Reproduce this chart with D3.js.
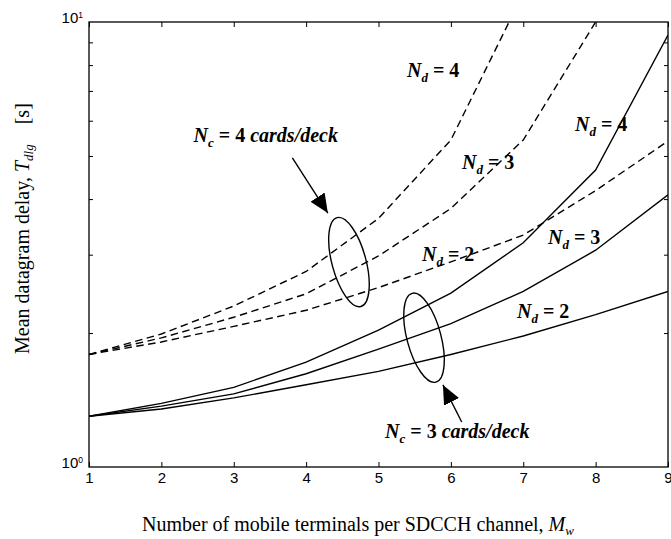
<!DOCTYPE html>
<html><head><meta charset="utf-8">
<script src="https://cdn.jsdelivr.net/npm/d3@7"></script>
<style>body{margin:0;background:#fff}svg{display:block}</style>
</head><body><svg id="c" width="671" height="539"></svg>
<script>
// Data
const mw = [1,2,3,4,5,6,7,8,9];
// Nc = 3 cards/deck (solid)
const solidNd2 = [1.30,1.35,1.43,1.53,1.64,1.79,1.97,2.20,2.48];
const solidNd3 = [1.30,1.37,1.46,1.62,1.84,2.10,2.48,3.07,4.09];
const solidNd4 = [1.30,1.39,1.51,1.72,2.03,2.46,3.19,4.65,9.35];
// Nc = 4 cards/deck (dashed)
const dashNd2 = [1.79,1.91,2.07,2.25,2.53,2.89,3.32,4.18,5.40];
const dashNd3 = [1.79,1.95,2.17,2.45,2.98,3.81,5.43,10.0];
const dashNd4 = [1.79,1.99,2.30,2.75,3.62,5.43,11.6];
const xTicks = [1,2,3,4,5,6,7,8,9];
const yMajor = [1,10];
const yMinor = [2,3,4,5,6,7,8,9];

const svg = d3.select("#c");
const L=89, R=668, T=22, B=467;
const x = d3.scaleLinear().domain([1,9]).range([L,R]);
const y = d3.scaleLog().domain([1,10]).range([B,T]);

svg.append("defs").append("clipPath").attr("id","clip")
  .append("rect").attr("x",L).attr("y",T).attr("width",R-L).attr("height",B-T);
const mk = svg.select("defs").append("marker").attr("id","ah")
  .attr("viewBox","0 0 10 10").attr("refX",10).attr("refY",5)
  .attr("markerWidth",19).attr("markerHeight",19).attr("markerUnits","userSpaceOnUse")
  .attr("orient","auto");
mk.append("path").attr("d","M0,0.6 L10,5 L0,9.4 Z").attr("fill","#000");

const line = d3.line().x((d,i)=>x(mw[i])).y(d=>y(d));
const g = svg.append("g").attr("clip-path","url(#clip)");
[solidNd2,solidNd3,solidNd4].forEach(s=>{
  g.append("path").attr("d",line(s)).attr("fill","none").attr("stroke","#000").attr("stroke-width",1.4);
});
[dashNd2,dashNd3,dashNd4].forEach(s=>{
  g.append("path").attr("d",line(s)).attr("fill","none").attr("stroke","#000").attr("stroke-width",1.4).attr("stroke-dasharray","7.5,4.5");
});

// frame
svg.append("rect").attr("x",L).attr("y",T).attr("width",R-L).attr("height",B-T)
  .attr("fill","none").attr("stroke","#000").attr("stroke-width",1.3);

// axes ticks
const xb = d3.axisBottom(x).tickValues(xTicks).tickSize(-5).tickPadding(5).tickFormat(d3.format("d"));
const xt = d3.axisTop(x).tickValues(xTicks).tickSize(-5).tickFormat("");
const gx = svg.append("g").attr("transform",`translate(0,${B})`).call(xb);
svg.append("g").attr("transform",`translate(0,${T})`).call(xt);
const yl = d3.axisLeft(y).tickValues(yMinor).tickSize(-4).tickFormat("");
const yr = d3.axisRight(y).tickValues(yMinor).tickSize(-4).tickFormat("");
svg.append("g").attr("transform",`translate(${L},0)`).call(yl);
svg.append("g").attr("transform",`translate(${R},0)`).call(yr);
svg.selectAll(".domain").remove();
svg.selectAll(".tick line").attr("stroke","#000").attr("stroke-width",1);
gx.selectAll(".tick text").attr("font-family","Liberation Sans, Arial").attr("font-size",15).attr("fill","#000");

// y major labels 10^0, 10^1
yMajor.forEach((v,i)=>{
  const t = svg.append("text").attr("x",L-6).attr("y",y(v)+0.5).attr("text-anchor","end")
    .attr("font-family","Liberation Sans, Arial").attr("font-size",15).attr("fill","#000");
  t.append("tspan").text("10");
  t.append("tspan").attr("font-size",8.5).attr("dy",-5).text(String(i));
});

// axis titles
const xtit = svg.append("text").attr("x",142).attr("y",531)
  .attr("font-family","Liberation Serif, Times New Roman").attr("font-size",20).attr("fill","#000");
xtit.append("tspan").text("Number of mobile terminals per SDCCH channel, ");
xtit.append("tspan").attr("font-style","italic").text("M");
xtit.append("tspan").attr("font-style","italic").attr("font-size",13).attr("dy",4).text("w");

const ytit = svg.append("text").attr("transform","translate(29,354) rotate(-90)")
  .attr("font-family","Liberation Serif, Times New Roman").attr("font-size",20).attr("fill","#000");
ytit.append("tspan").text("Mean datagram delay, ");
ytit.append("tspan").attr("font-style","italic").text("T");
ytit.append("tspan").attr("font-style","italic").attr("font-size",13).attr("dy",4).text("dlg");
ytit.append("tspan").attr("dy",-4).text("\u00a0\u00a0\u00a0\u00a0[s]");

// curve labels (data-space anchors)
const ndLabels = [
  {xv:5.394, yv:7.52, n:"4"},
  {xv:6.154, yv:4.67, n:"3"},
  {xv:7.715, yv:5.69, n:"4"},
  {xv:5.601, yv:2.90, n:"2"},
  {xv:7.342, yv:3.17, n:"3"},
  {xv:6.914, yv:2.16, n:"2"}
];
function ndLabel(d, sub){
  const t = svg.append("text").attr("x",x(d.xv)).attr("y",y(d.yv))
    .attr("font-family","Liberation Serif, Times New Roman").attr("font-size",20).attr("fill","#000")
    .attr("font-weight","bold");
  t.append("tspan").attr("font-style","italic").text("N");
  t.append("tspan").attr("font-style","italic").attr("font-size",13).attr("dy",5).text(sub);
  t.append("tspan").attr("dy",-5).text(" = "+d.n);
  return t;
}
ndLabels.forEach(d=>ndLabel(d,"d"));

function ncLabel(xv,yv,n,anchor){
  const t = svg.append("text").attr("x",x(xv)).attr("y",y(yv)).attr("text-anchor",anchor)
    .attr("font-family","Liberation Serif, Times New Roman").attr("font-size",20).attr("fill","#000")
    .attr("font-weight","bold");
  t.append("tspan").attr("font-style","italic").text("N");
  t.append("tspan").attr("font-style","italic").attr("font-size",13).attr("dy",5).text("c");
  t.append("tspan").attr("dy",-5).text(" = "+n+" ");
  t.append("tspan").attr("font-style","italic").text("cards/deck");
}
ncLabel(4.44,5.37,"4","end");
ncLabel(5.09,1.162,"3","start");

// ellipses
const ells = [{xv:4.592,yv:2.888},{xv:5.629,yv:1.952}];
ells.forEach(e=>{
  svg.append("ellipse").attr("cx",0).attr("cy",0).attr("rx",17).attr("ry",46)
    .attr("transform",`translate(${x(e.xv)},${y(e.yv)}) rotate(-15)`)
    .attr("fill","none").attr("stroke","#000").attr("stroke-width",1.4);
});
// arrows
const arrows = [
  {x1:3.81,y1:4.95,x2:4.30,y2:3.72},
  {x1:6.15,y1:1.262,x2:5.89,y2:1.529}
];
arrows.forEach(a=>{
  svg.append("line").attr("x1",x(a.x1)).attr("y1",y(a.y1)).attr("x2",x(a.x2)).attr("y2",y(a.y2))
    .attr("stroke","#000").attr("stroke-width",1.4).attr("marker-end","url(#ah)");
});
</script></body></html>
